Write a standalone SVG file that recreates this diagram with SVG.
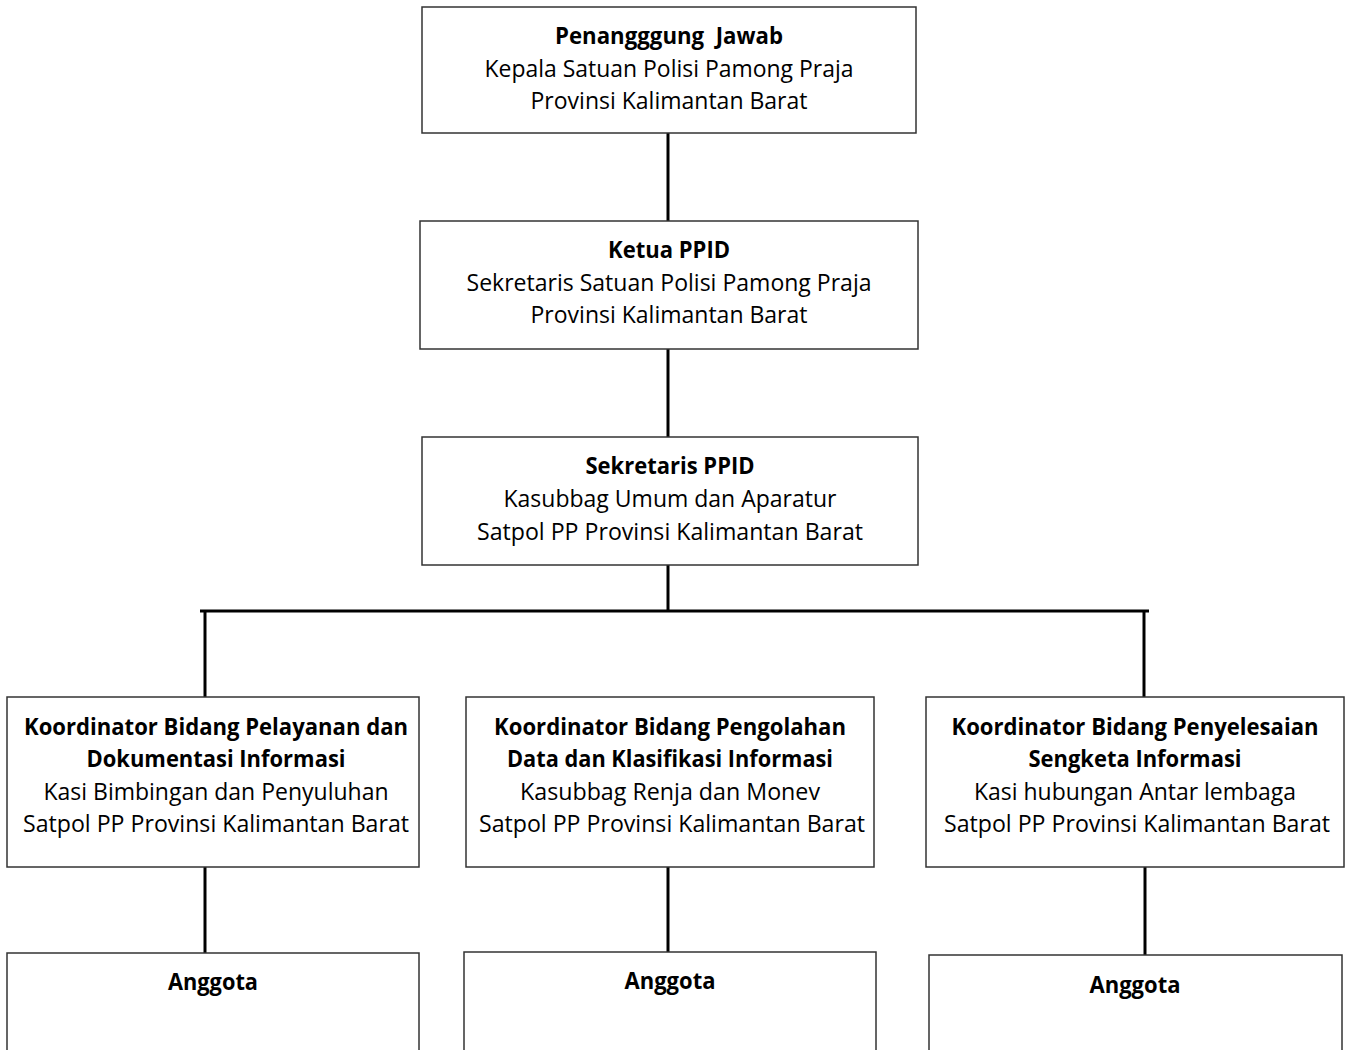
<svg xmlns="http://www.w3.org/2000/svg" width="1347" height="1050" viewBox="0 0 1347 1050">
<style>
.box{fill:#fff;stroke:#333;stroke-width:1.5}
.c{stroke:#000;stroke-width:3;fill:none}
text{font-family:"Open Sans","Liberation Sans",sans-serif;font-size:23px;fill:#000;text-anchor:middle}
.b{font-weight:bold}
</style>
<rect width="1347" height="1050" fill="#fff"/>
<g id="connectors">
<line class="c" x1="668" y1="133" x2="668" y2="221"/>
<line class="c" x1="668" y1="349" x2="668" y2="437"/>
<line class="c" x1="668" y1="565" x2="668" y2="611"/>
<line class="c" x1="200" y1="611" x2="1149" y2="611"/>
<line class="c" x1="205" y1="611" x2="205" y2="697"/>
<line class="c" x1="1144" y1="611" x2="1144" y2="697"/>
<line class="c" x1="205" y1="867" x2="205" y2="953"/>
<line class="c" x1="668" y1="867" x2="668" y2="952"/>
<line class="c" x1="1145" y1="867" x2="1145" y2="955"/>
</g>
<g id="n1">
<rect class="box" x="422" y="7" width="494" height="126"/>
<text class="b" x="669" y="44" textLength="228" lengthAdjust="spacingAndGlyphs" xml:space="preserve">Penangggung  Jawab</text>
<text x="669" y="77" textLength="369" lengthAdjust="spacingAndGlyphs">Kepala Satuan Polisi Pamong Praja</text>
<text x="669" y="109" textLength="277" lengthAdjust="spacingAndGlyphs">Provinsi Kalimantan Barat</text>
</g>
<g id="n2">
<rect class="box" x="420" y="221" width="498" height="128"/>
<text class="b" x="669" y="258" textLength="122" lengthAdjust="spacingAndGlyphs">Ketua PPID</text>
<text x="669" y="291" textLength="405" lengthAdjust="spacingAndGlyphs">Sekretaris Satuan Polisi Pamong Praja</text>
<text x="669" y="323" textLength="277" lengthAdjust="spacingAndGlyphs">Provinsi Kalimantan Barat</text>
</g>
<g id="n3">
<rect class="box" x="422" y="437" width="496" height="128"/>
<text class="b" x="670" y="474" textLength="169" lengthAdjust="spacingAndGlyphs">Sekretaris PPID</text>
<text x="670" y="507" textLength="333" lengthAdjust="spacingAndGlyphs">Kasubbag Umum dan Aparatur</text>
<text x="670" y="540" textLength="386" lengthAdjust="spacingAndGlyphs">Satpol PP Provinsi Kalimantan Barat</text>
</g>
<g id="n4">
<rect class="box" x="7" y="697" width="412" height="170"/>
<text class="b" x="216" y="735" textLength="384" lengthAdjust="spacingAndGlyphs">Koordinator Bidang Pelayanan dan</text>
<text class="b" x="216" y="767" textLength="259" lengthAdjust="spacingAndGlyphs">Dokumentasi Informasi</text>
<text x="216" y="800" textLength="345" lengthAdjust="spacingAndGlyphs">Kasi Bimbingan dan Penyuluhan</text>
<text x="216" y="832" textLength="386" lengthAdjust="spacingAndGlyphs">Satpol PP Provinsi Kalimantan Barat</text>
</g>
<g id="n5">
<rect class="box" x="466" y="697" width="408" height="170"/>
<text class="b" x="670" y="735" textLength="352" lengthAdjust="spacingAndGlyphs">Koordinator Bidang Pengolahan</text>
<text class="b" x="670" y="767" textLength="326" lengthAdjust="spacingAndGlyphs">Data dan Klasifikasi Informasi</text>
<text x="670" y="800" textLength="300" lengthAdjust="spacingAndGlyphs">Kasubbag Renja dan Monev</text>
<text x="672" y="832" textLength="386" lengthAdjust="spacingAndGlyphs">Satpol PP Provinsi Kalimantan Barat</text>
</g>
<g id="n6">
<rect class="box" x="926" y="697" width="418" height="170"/>
<text class="b" x="1135" y="735" textLength="367" lengthAdjust="spacingAndGlyphs">Koordinator Bidang Penyelesaian</text>
<text class="b" x="1135" y="767" textLength="213" lengthAdjust="spacingAndGlyphs">Sengketa Informasi</text>
<text x="1135" y="800" textLength="322" lengthAdjust="spacingAndGlyphs">Kasi hubungan Antar lembaga</text>
<text x="1137" y="832" textLength="386" lengthAdjust="spacingAndGlyphs">Satpol PP Provinsi Kalimantan Barat</text>
</g>
<g id="n7">
<rect class="box" x="7" y="953" width="412" height="110"/>
<text class="b" x="213" y="990" textLength="90" lengthAdjust="spacingAndGlyphs">Anggota</text>
</g>
<g id="n8">
<rect class="box" x="464" y="952" width="412" height="110"/>
<text class="b" x="670" y="989" textLength="91" lengthAdjust="spacingAndGlyphs">Anggota</text>
</g>
<g id="n9">
<rect class="box" x="929" y="955" width="413" height="110"/>
<text class="b" x="1135" y="993" textLength="91" lengthAdjust="spacingAndGlyphs">Anggota</text>
</g>
</svg>
